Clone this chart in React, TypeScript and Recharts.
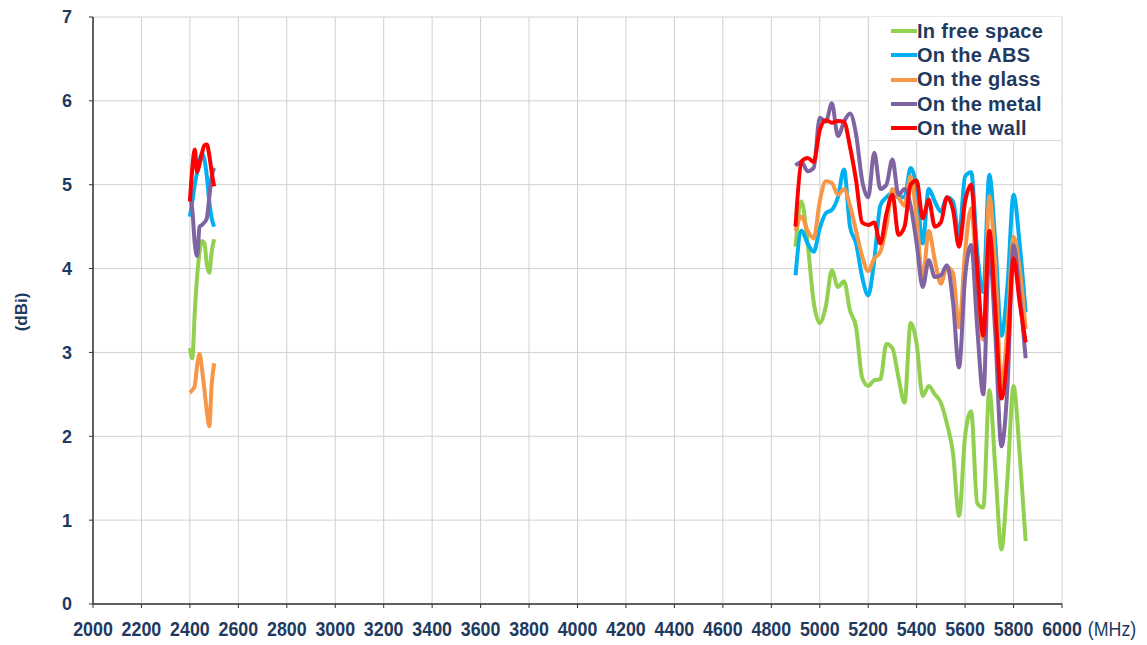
import { LineChart, Line, XAxis, YAxis, CartesianGrid } from 'recharts'

document.body.style.margin = '0'

const freqLow = [2400, 2410, 2420, 2430, 2440, 2450, 2460, 2470, 2480, 2490, 2500]
const freqHigh = [
  4900, 4925, 4950, 4975, 5000, 5025, 5050, 5075, 5100, 5125, 5150, 5175, 5200,
  5225, 5250, 5275, 5300, 5325, 5350, 5375, 5400, 5425, 5450, 5475, 5500, 5525,
  5550, 5575, 5600, 5625, 5650, 5675, 5700, 5725, 5750, 5775, 5800, 5825, 5850,
]

const freeSpaceLow = [3.05, 2.93, 3.47, 3.91, 4.2, 4.33, 4.3, 4.05, 3.95, 4.2, 4.35]
const absLow = [4.62, 4.8, 5.0, 5.15, 5.3, 5.37, 5.3, 5.1, 4.8, 4.6, 4.5]
const glassLow = [2.52, 2.55, 2.6, 2.85, 2.98, 2.8, 2.55, 2.3, 2.12, 2.62, 2.87]
const metalLow = [4.85, 4.7, 4.3, 4.15, 4.5, 4.52, 4.55, 4.6, 4.85, 5.1, 5.2]
const wallLow = [4.8, 5.2, 5.42, 5.15, 5.25, 5.38, 5.47, 5.48, 5.35, 5.15, 4.98]

const freeSpaceHigh = [
  4.26, 4.8, 4.3, 3.6, 3.35, 3.55, 3.98, 3.78, 3.85, 3.5, 3.3, 2.7, 2.6,
  2.67, 2.68, 3.1, 3.05, 2.7, 2.4, 3.35, 3.1, 2.48, 2.6, 2.5, 2.4, 2.15,
  1.8, 1.05, 2.0, 2.3, 1.2, 1.15, 2.55, 1.6, 0.65, 1.5, 2.6, 1.8, 0.75,
]
const absHigh = [
  3.92, 4.45, 4.3, 4.2, 4.48, 4.66, 4.7, 4.85, 5.18, 4.5, 4.3, 3.9, 3.68,
  4.1, 4.75, 4.85, 4.9, 4.85, 4.85, 5.2, 4.95, 4.3, 4.95, 4.8, 4.68, 4.85,
  4.8, 4.4, 5.1, 5.15, 4.2, 3.72, 5.12, 4.3, 3.2, 3.8, 4.88, 4.3, 3.48,
]
const glassHigh = [
  4.45, 4.62, 4.45, 4.36, 4.8, 5.04, 5.02, 4.88, 4.95, 4.75, 4.45, 4.15, 3.97,
  4.12, 4.2, 4.5, 4.95, 4.85, 4.75, 5.1, 4.6, 3.87, 4.45, 4.1, 3.82, 4.02,
  3.95, 3.3, 4.2, 4.72, 3.8, 3.15, 4.86, 4.0, 2.6, 3.3, 4.38, 4.0, 3.28,
]
const metalHigh = [
  5.23, 5.27, 5.16, 5.2, 5.8, 5.75, 5.97, 5.58, 5.75, 5.85, 5.6, 5.05, 4.85,
  5.38, 4.95, 5.0, 5.3, 4.88, 4.95, 4.75, 4.3, 3.78, 4.1, 3.9, 3.92, 4.04,
  3.6, 2.82, 3.9, 4.28, 3.3, 2.5, 4.2, 3.2, 1.88, 2.6, 4.28, 3.7, 2.93,
]
const wallHigh = [
  4.5, 5.28, 5.32, 5.27, 5.65, 5.77, 5.74, 5.76, 5.75, 5.45, 5.05, 4.55, 4.52,
  4.55, 4.3, 4.65, 4.88, 4.4, 4.5, 5.0, 5.05, 4.6, 4.82, 4.5, 4.55, 4.85,
  4.7, 4.26, 4.8, 5.0, 4.0, 3.2, 4.45, 3.5, 2.45, 3.0, 4.12, 3.6, 3.12,
]

const xTicks = [2000, 2200, 2400, 2600, 2800, 3000, 3200, 3400, 3600, 3800, 4000,
  4200, 4400, 4600, 4800, 5000, 5200, 5400, 5600, 5800, 6000]
const yTicks = [0, 1, 2, 3, 4, 5, 6, 7]

const series = [
  { key: 'free', name: 'In free space', color: '#92D050' },
  { key: 'abs', name: 'On the ABS', color: '#00B0F0' },
  { key: 'glass', name: 'On the glass', color: '#F79646' },
  { key: 'metal', name: 'On the metal', color: '#8064A2' },
  { key: 'wall', name: 'On the wall', color: '#FF0000' },
]

const rowsLow = freqLow.map((f, i) => ({
  f, free: freeSpaceLow[i], abs: absLow[i], glass: glassLow[i], metal: metalLow[i], wall: wallLow[i],
}))
const rowsHigh = freqHigh.map((f, i) => ({
  f, free: freeSpaceHigh[i], abs: absHigh[i], glass: glassHigh[i], metal: metalHigh[i], wall: wallHigh[i],
}))
// null row breaks the lines between the two bands
const data = [...rowsLow, { f: 3700, free: null, abs: null, glass: null, metal: null, wall: null }, ...rowsHigh]

const FONT = '"Liberation Sans", Arial, sans-serif'
const NAVY = '#1F3A60'
const AXIS = '#333333'

const XTick = (props: any) => {
  const { x, y, payload } = props
  return (
    <g transform={`translate(${x},${y})`}>
      <text transform="scale(0.85,1)" textAnchor="middle" y={26} fill={NAVY}
        fontFamily={FONT} fontWeight="bold" fontSize={21}>{payload.value}</text>
    </g>
  )
}

const MhzLabel = (props: any) => {
  const vb = props.viewBox || { x: 93, y: 604, width: 969 }
  const x = vb.x + vb.width + 50
  return (
    <g transform={`translate(${x},${vb.y + 6})`}>
      <text transform="scale(0.85,1)" textAnchor="middle" y={26} fill={NAVY}
        fontFamily={FONT} fontSize={21}>(MHz)</text>
    </g>
  )
}

const DbiLabel = (props: any) => {
  const vb = props.viewBox || { x: 29, y: 17, height: 587 }
  const cx = vb.x - 8
  const cy = vb.y + vb.height / 2 + 1.5
  return (
    <text x={cx} y={cy} transform={`rotate(-90 ${cx} ${cy})`} textAnchor="middle"
      dominantBaseline="central" fill={NAVY} fontFamily={FONT} fontWeight="bold" fontSize={17}>
      (dBi)
    </text>
  )
}

function LegendBox() {
  return (
    <div style={{
      position: 'absolute', left: 868, top: 17, width: 193, height: 124,
      background: '#fff', border: '1px solid #d9d9d9', borderTop: 'none', borderRight: 'none',
      paddingTop: 2, boxSizing: 'border-box',
    }}>
      {series.map(s => (
        <div key={s.key} style={{ display: 'flex', alignItems: 'center', height: 24.3 }}>
          <span style={{ display: 'inline-block', width: 26, height: 4, marginLeft: 22, background: s.color }} />
          <span style={{ fontFamily: FONT, fontWeight: 'bold', fontSize: 20, color: NAVY, letterSpacing: 0.3, whiteSpace: 'nowrap' }}>
            {s.name}
          </span>
        </div>
      ))}
    </div>
  )
}

export default function App() {
  return (
    <div style={{ position: 'relative', width: 1147, height: 645, background: '#fff' }}>
      <LineChart width={1147} height={645} data={data}
        margin={{ top: 17, right: 85, bottom: 11, left: 29 }}>
        <CartesianGrid stroke="#d0d0d0" />
        <XAxis dataKey="f" type="number" domain={[2000, 6000]} ticks={xTicks} interval={0}
          height={30} tickSize={4} tick={<XTick />}
          axisLine={{ stroke: AXIS, strokeWidth: 1.5 }} tickLine={{ stroke: AXIS }}
          label={<MhzLabel />} />
        <YAxis type="number" domain={[0, 7]} ticks={yTicks} interval={0} width={64}
          tickSize={4} tickMargin={17}
          tick={{ fill: NAVY, fontFamily: FONT, fontWeight: 'bold', fontSize: 18 }}
          axisLine={{ stroke: AXIS, strokeWidth: 1.5 }} tickLine={{ stroke: AXIS }}
          label={<DbiLabel />} />
        {series.map(s => (
          <Line key={s.key} dataKey={s.key} name={s.name} type="monotone" stroke={s.color}
            strokeWidth={4} dot={false} activeDot={false} connectNulls={false}
            isAnimationActive={false} />
        ))}
      </LineChart>
      <LegendBox />
    </div>
  )
}
